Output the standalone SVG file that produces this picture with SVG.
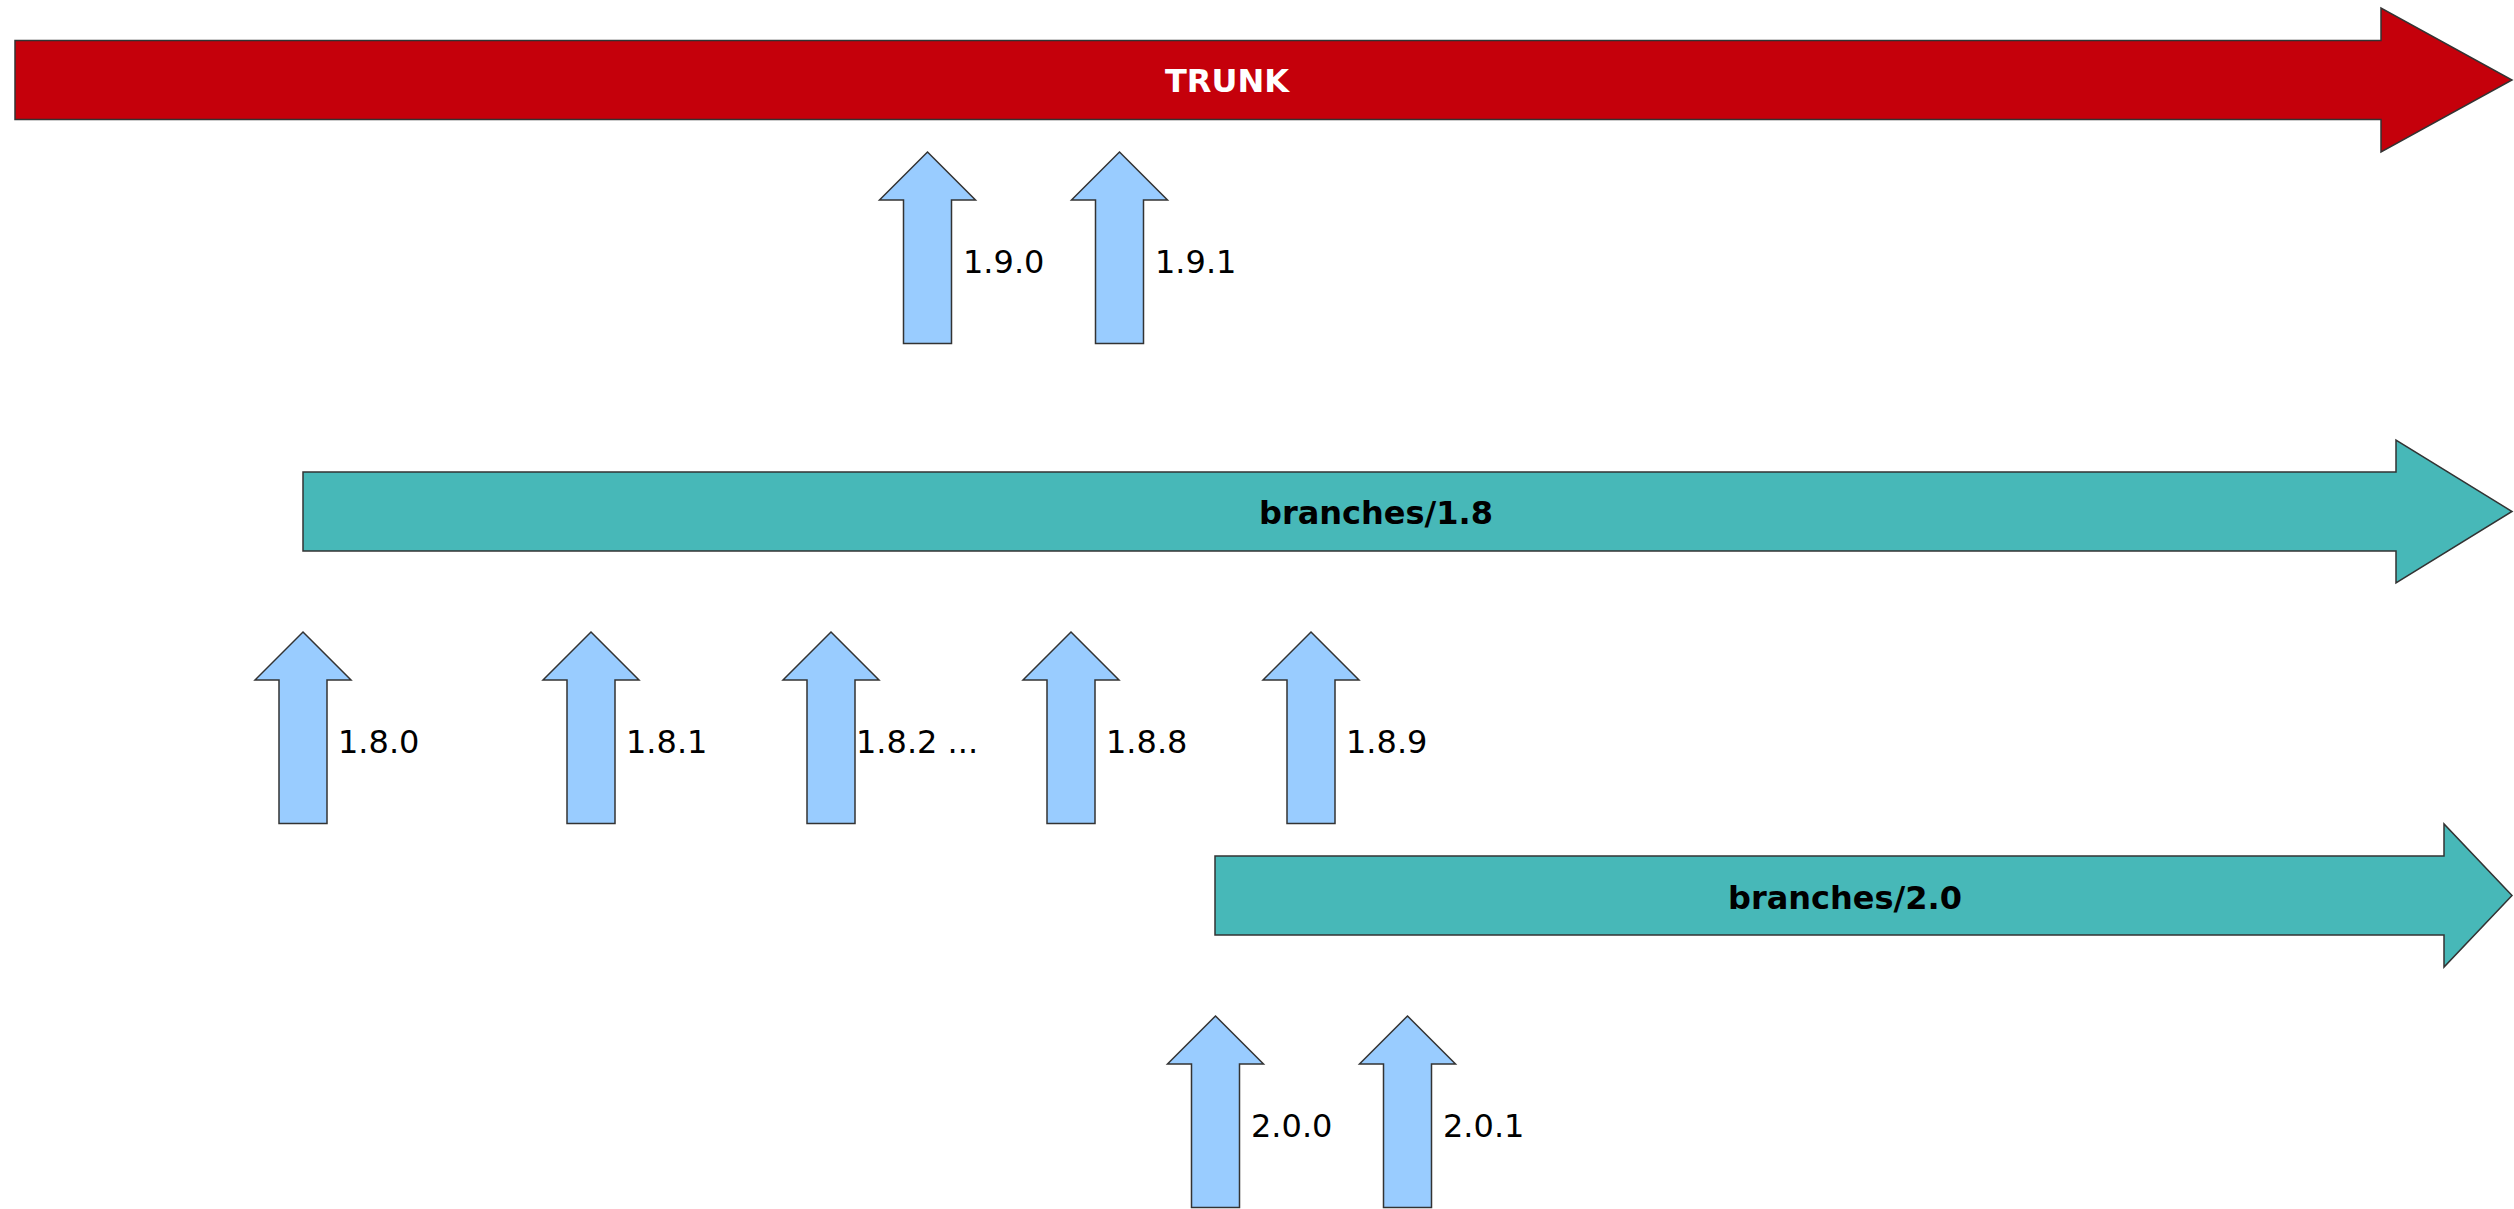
<svg xmlns="http://www.w3.org/2000/svg" width="2514" height="1209" viewBox="0 0 2514 1209">
<defs>
<style>
.big{stroke:#333333;stroke-width:1.5;stroke-linejoin:miter}
.trunk{fill:#c5000b}
.branch{fill:#47b8b8}
.tag{fill:#99ccff;stroke:#333333;stroke-width:1.5}
.title{font-family:"DejaVu Sans",sans-serif;font-weight:bold;font-size:32px;text-anchor:middle}
.lbl{font-family:"DejaVu Sans",sans-serif;font-size:32px;fill:#000000}
</style>
<path id="up" d="M0,0 L48,48 L24,48 L24,191.5 L-24,191.5 L-24,48 L-48,48 Z"/>
</defs>
<rect width="2514" height="1209" fill="#ffffff"/>
<g id="trunk">
<path class="big trunk" d="M15,40.5 L2381,40.5 L2381,8 L2512,80 L2381,152 L2381,119.5 L15,119.5 Z"/>
<text class="title" x="1227" y="92" fill="#ffffff">TRUNK</text>
</g>
<g id="branch18">
<path class="big branch" d="M303,472 L2396,472 L2396,440 L2512,511.5 L2396,583 L2396,551 L303,551 Z"/>
<text class="title" x="1376" y="524" fill="#000000">branches/1.8</text>
</g>
<g id="branch20">
<path class="big branch" d="M1215,856 L2444,856 L2444,824 L2512,895.5 L2444,967 L2444,935 L1215,935 Z"/>
<text class="title" x="1845" y="909" fill="#000000">branches/2.0</text>
</g>
<g id="connectors">
<g id="t190"><use href="#up" class="tag" x="927.5" y="152"/><text class="lbl" x="963" y="273">1.9.0</text></g>
<g id="t191"><use href="#up" class="tag" x="1119.5" y="152"/><text class="lbl" x="1155" y="273">1.9.1</text></g>
<g id="t180"><use href="#up" class="tag" x="303" y="632"/><text class="lbl" x="338" y="753">1.8.0</text></g>
<g id="t181"><use href="#up" class="tag" x="591" y="632"/><text class="lbl" x="626" y="753">1.8.1</text></g>
<g id="t182"><use href="#up" class="tag" x="831" y="632"/><text class="lbl" x="856" y="753">1.8.2 ...</text></g>
<g id="t188"><use href="#up" class="tag" x="1071" y="632"/><text class="lbl" x="1106" y="753">1.8.8</text></g>
<g id="t189"><use href="#up" class="tag" x="1311" y="632"/><text class="lbl" x="1346" y="753">1.8.9</text></g>
<g id="t200"><use href="#up" class="tag" x="1215.5" y="1016"/><text class="lbl" x="1251" y="1137">2.0.0</text></g>
<g id="t201"><use href="#up" class="tag" x="1407.5" y="1016"/><text class="lbl" x="1443" y="1137">2.0.1</text></g>
</g>
</svg>
